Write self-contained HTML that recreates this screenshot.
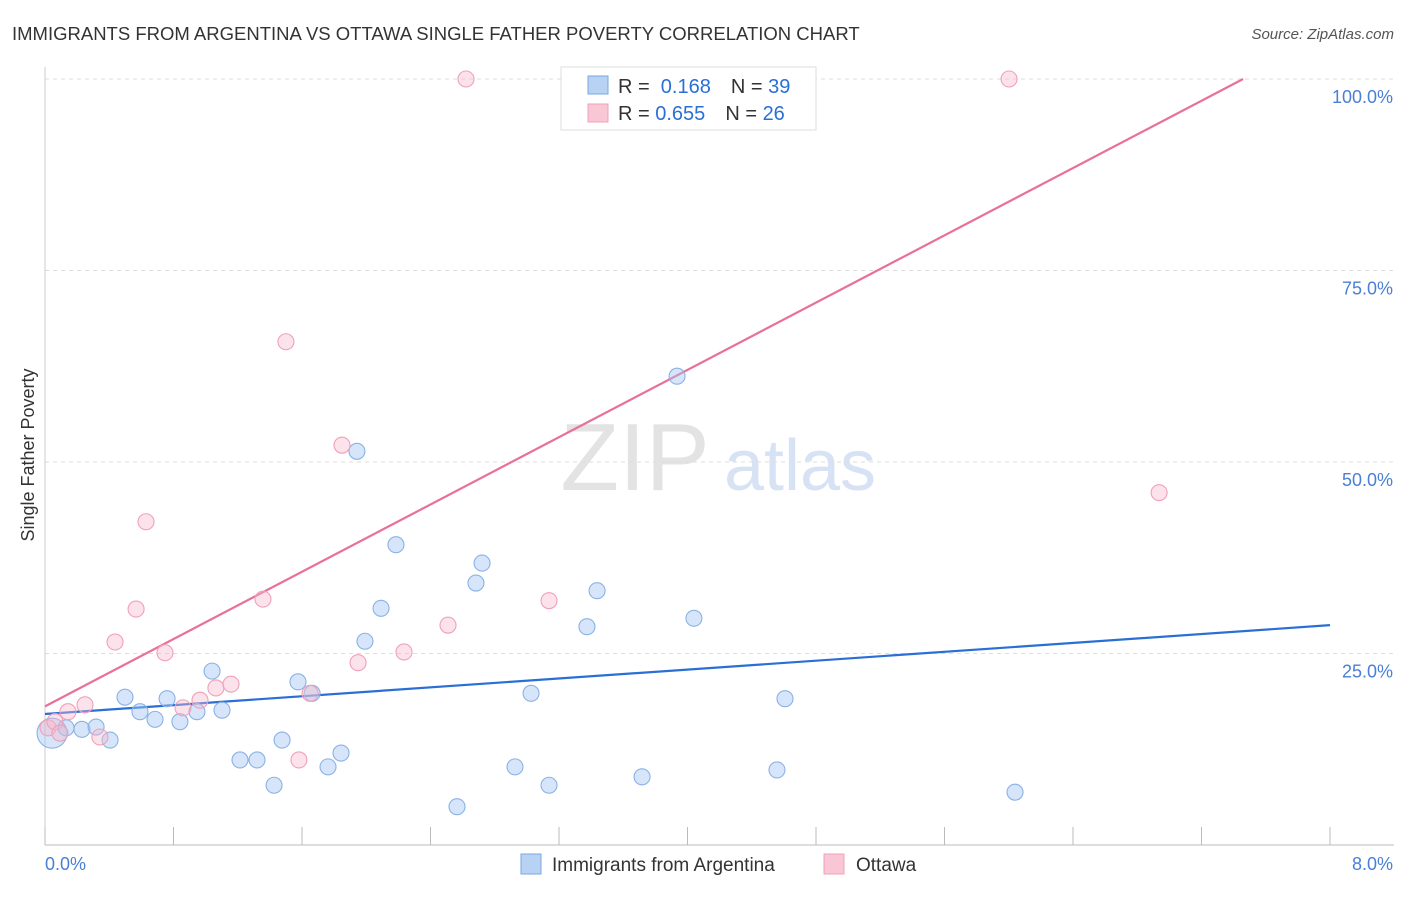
<!DOCTYPE html>
<html><head><meta charset="utf-8"><style>
body{margin:0;background:#fff;font-family:"Liberation Sans",sans-serif;}
svg text{font-family:"Liberation Sans",sans-serif;}
</style></head><body>
<svg width="1406" height="892" id="chart">
<text x="12" y="40" font-size="18.5" fill="#333">IMMIGRANTS FROM ARGENTINA VS OTTAWA SINGLE FATHER POVERTY CORRELATION CHART</text>
<text x="1394" y="39" font-size="15" fill="#555" font-style="italic" text-anchor="end">Source: ZipAtlas.com</text>
<g>
<text x="635" y="490" font-size="96" fill="#d8d8d8" font-family="Liberation Serif" text-anchor="middle" opacity="0.7">ZIP</text>
<text x="800" y="490" font-size="72" fill="#c7d8f0" text-anchor="middle" opacity="0.7">atlas</text>
</g>
<g id="grid"></g><g id="axes"></g><g id="lines"></g><g id="pts"></g>
<text transform="translate(34,455) rotate(-90)" font-size="18" fill="#333" text-anchor="middle">Single Father Poverty</text>
<g>
<rect x="561" y="67" width="255" height="63" fill="#fff" stroke="#ddd"/>
<rect x="588" y="76" width="20" height="18" fill="#b8d2f4" stroke="#7aa7e0"/>
<rect x="588" y="104" width="20" height="18" fill="#f9c6d6" stroke="#f0a0b8"/>
<text x="618" y="93" font-size="20" fill="#333">R = <tspan fill="#2a6fd6">&#160;0.168</tspan><tspan dx="20">N = </tspan><tspan fill="#2a6fd6">39</tspan></text>
<text x="618" y="120" font-size="20" fill="#333">R = <tspan fill="#2a6fd6">0.655</tspan><tspan dx="20">N = </tspan><tspan fill="#2a6fd6">26</tspan></text>
</g>
<g>
<rect x="521" y="854" width="20" height="20" fill="#b8d2f4" stroke="#7aa7e0"/>
<text x="552" y="871" font-size="19" fill="#333">Immigrants from Argentina</text>
<rect x="824" y="854" width="20" height="20" fill="#f9c6d6" stroke="#f0a0b8"/>
<text x="856" y="871" font-size="19" fill="#333">Ottawa</text>
</g>
</svg>
<script>
const xTicks=[0,0.8,1.6,2.4,3.2,4.0,4.8,5.6,6.4,7.2,8.0];
const yTicks=[25,50,75,100];
const yTickLabels=["25.0%","50.0%","75.0%","100.0%"];
const blueX=[0.044,0.131,0.230,0.318,0.405,0.498,0.591,0.685,0.760,0.840,0.946,1.040,1.102,1.214,1.320,1.426,1.476,1.575,1.663,1.762,1.843,1.942,1.992,2.092,2.185,2.565,2.683,2.721,2.926,3.026,3.138,3.374,3.437,3.717,3.935,4.040,4.557,4.607,6.039];
const blueY=[14.6,15.3,15.1,15.4,13.7,19.3,17.4,16.4,19.1,16.1,17.4,22.7,17.6,11.1,11.1,7.8,13.7,21.3,19.8,10.2,12.0,51.4,26.6,30.9,39.2,5.0,34.2,36.8,10.2,19.8,7.8,28.5,33.2,8.9,61.2,29.6,9.8,19.1,6.9];
const pinkX=[0.019,0.062,0.093,0.143,0.249,0.342,0.436,0.567,0.629,0.747,0.859,0.965,1.064,1.158,1.357,1.500,1.581,1.650,1.849,1.949,2.235,2.509,2.621,3.138,6.002,6.936];
const pinkY=[15.3,16.1,14.6,17.4,18.3,14.1,26.5,30.8,42.2,25.1,17.9,18.9,20.5,21.0,32.1,65.7,11.1,19.8,52.2,23.8,25.2,28.7,100,31.9,100,46.0];
const blueTrend=[17.1,28.7];
const pinkTrend=[18.1,10.98];
const X=v=>45+v*160.625, Y=v=>845-v*7.66;
const NS="http://www.w3.org/2000/svg";
function mk(tag,attrs,parent){const e=document.createElementNS(NS,tag);for(const k in attrs)e.setAttribute(k,attrs[k]);document.getElementById(parent).appendChild(e);return e;}
yTicks.forEach((t,i)=>{
 const g=mk('line',{x1:45,x2:1394,y1:Y(t),y2:Y(t),stroke:'#ddd','stroke-dasharray':'4,4'},'grid');
 
 
 const l=mk('text',{x:1393,y:Y(t)+24,'font-size':18,fill:'#4a7fd6','text-anchor':'end'},'axes');
 l.textContent=yTickLabels[i];
 
 
});
const ax=mk('line',{x1:45,x2:1394,y1:845,y2:845,stroke:'#bbb'},'axes');


const ay=mk('line',{x1:45,x2:45,y1:67,y2:845,stroke:'#ccc'},'axes');


xTicks.forEach(t=>{
 const k=mk('line',{x1:X(t),x2:X(t),y1:827,y2:845,stroke:'#bbb'},'axes');
 
 
});
const xl0=mk('text',{x:45,y:870,'font-size':18,fill:'#4a7fd6'},'axes');xl0.textContent='0.0%';


const xl1=mk('text',{x:1393,y:870,'font-size':18,fill:'#4a7fd6','text-anchor':'end'},'axes');xl1.textContent='8.0%';


blueX.forEach((x,i)=>{
 const c=mk('circle',{cx:X(x),cy:Y(blueY[i]),r:i==0?15:8,fill:'rgba(165,198,242,0.45)',stroke:'#8ab2e6','stroke-width':1.1},'pts');
 
 
});
pinkX.forEach((x,i)=>{
 const c=mk('circle',{cx:X(x),cy:Y(pinkY[i]),r:8,fill:'rgba(247,185,205,0.4)',stroke:'#f0a0b8','stroke-width':1.1},'pts');
 
 
});
const bl=mk('line',{x1:X(0),y1:Y(blueTrend[0]),x2:X(8),y2:Y(blueTrend[1]),stroke:'#2a6fd6','stroke-width':2.2},'lines');


const pxEnd=(100-pinkTrend[0])/pinkTrend[1];
const pl=mk('line',{x1:X(0),y1:Y(pinkTrend[0]),x2:X(pxEnd),y2:Y(100),stroke:'#e8709a','stroke-width':2.2},'lines');


</script>
</body></html>
